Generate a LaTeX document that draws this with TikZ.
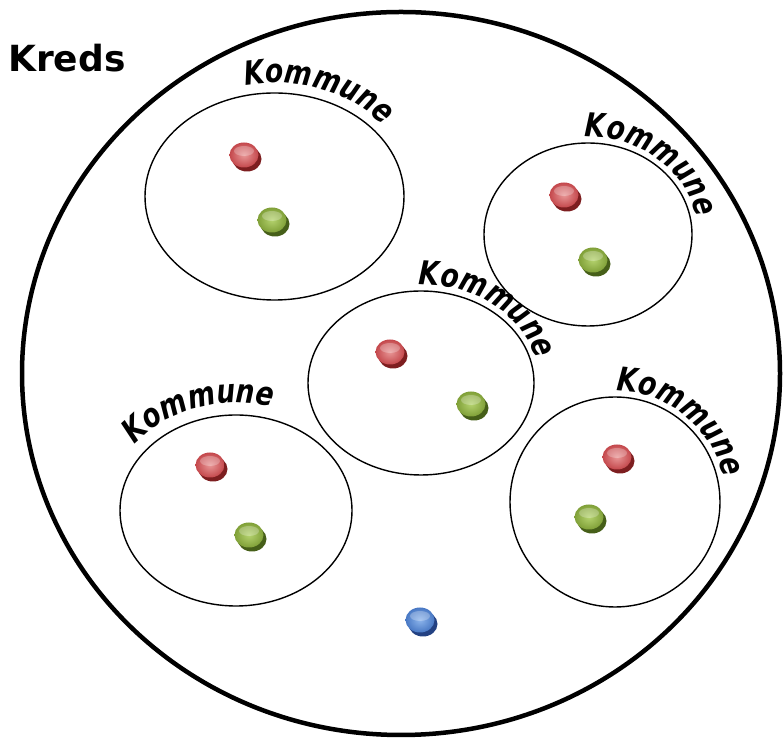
\documentclass[tikz,border=0pt]{standalone}
\usepackage{fontspec}
\newfontfamily\dejavu{DejaVu Sans}
\newfontfamily\komfont{DejaVu Sans}[FakeStretch=0.8]
\usetikzlibrary{decorations.text,shapes.geometric}
\definecolor{redface}{RGB}{196,72,76}
\definecolor{redlight}{RGB}{232,150,150}
\definecolor{redshadow}{RGB}{125,30,32}
\definecolor{greenface}{RGB}{128,160,56}
\definecolor{greenlight}{RGB}{180,210,110}
\definecolor{greenshadow}{RGB}{70,95,25}
\definecolor{blueface}{RGB}{72,120,196}
\definecolor{bluelight}{RGB}{140,180,235}
\definecolor{blueshadow}{RGB}{35,65,130}
\tikzset{
  kom/.style={ellipse, draw, line width=1.4pt, inner sep=0pt},
  pics/pin/.style n args={3}{code={
     \fill[#3] (3,-4) ellipse[x radius=14.5, y radius=12.5];
     \shade[inner color=#2, outer color=#1] (0,0) ellipse[x radius=14.5, y radius=12.5];
     \fill[white, opacity=.25] (0,4) ellipse[x radius=10, y radius=5];
  }},
  labeltext/.style={decorate, decoration={text along path, text align=center,
     text={|\fontsize{33}{33}\selectfont\komfont\bfseries\itshape|Kommune}}}
}
\begin{document}
\begin{tikzpicture}[x=1pt,y=1pt]
\useasboundingbox (0,0) rectangle (784,738);
\node[draw, ellipse, line width=4.5pt, inner sep=0pt, minimum width=758pt, minimum height=723pt] (kreds area) at (401,364.5) {};
\node[anchor=base west, inner sep=0pt, font=\dejavu\bfseries\fontsize{36}{36}\selectfont] (kreds) at (8,666) {Kreds};
% Kommuner
\node[kom, minimum width=259pt, minimum height=207pt] (k1) at (274.5,541.5) {};
\node[kom, minimum width=208pt, minimum height=183pt] (k2) at (588,503.5) {};
\node[kom, minimum width=226pt, minimum height=184pt] (k3) at (421,355) {};
\node[kom, minimum width=232pt, minimum height=191pt] (k4) at (236,227.5) {};
\node[kom, minimum width=210pt, minimum height=210pt] (k5) at (615,236) {};
% labels
\path[labeltext] ([shift={(124:139.5 and 113.5)}]k1.center) arc[start angle=124, end angle=14, x radius=139.5, y radius=113.5];
\path[labeltext] ([shift={(105:110 and 97.5)}]k2.center) arc[start angle=105, end angle=-5, x radius=110, y radius=97.5];
\path[labeltext] ([shift={(106:119 and 98)}]k3.center) arc[start angle=106, end angle=-4, x radius=119, y radius=98];
\path[labeltext] ([shift={(164:128 and 107.5)}]k4.center) arc[start angle=164, end angle=54, x radius=128, y radius=107.5];
\path[labeltext] ([shift={(106:111 and 111)}]k5.center) arc[start angle=106, end angle=-4, x radius=111, y radius=111];
% pins
\pic at (244,583) {pin={redface}{redlight}{redshadow}};
\pic at (272,518) {pin={greenface}{greenlight}{greenshadow}};
\pic at (564,543) {pin={redface}{redlight}{redshadow}};
\pic at (593,478) {pin={greenface}{greenlight}{greenshadow}};
\pic at (390,386) {pin={redface}{redlight}{redshadow}};
\pic at (471,334) {pin={greenface}{greenlight}{greenshadow}};
\pic at (210,273) {pin={redface}{redlight}{redshadow}};
\pic at (249,203) {pin={greenface}{greenlight}{greenshadow}};
\pic at (617,281) {pin={redface}{redlight}{redshadow}};
\pic at (589,221) {pin={greenface}{greenlight}{greenshadow}};
\pic at (420,118) {pin={blueface}{bluelight}{blueshadow}};
\end{tikzpicture}
\end{document}
